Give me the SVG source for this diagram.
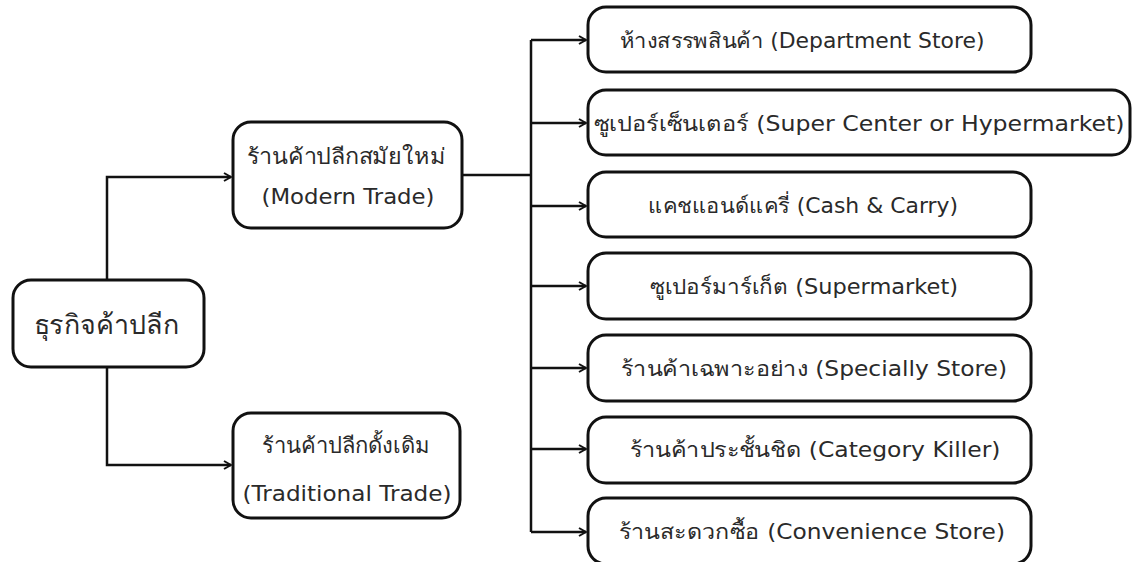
<svg xmlns="http://www.w3.org/2000/svg" width="1138" height="562" viewBox="0 0 1138 562">
<defs>
<marker id="arr" viewBox="0 0 10 10" refX="9" refY="5" markerWidth="10" markerHeight="10" markerUnits="userSpaceOnUse" orient="auto">
<path d="M2,1 L9,5 L2,9" fill="none" stroke="#111" stroke-width="2" stroke-linejoin="miter"/>
</marker>
</defs>
<style>
.box{fill:#fff;stroke:#111;stroke-width:3}
.ln{fill:none;stroke:#111;stroke-width:2.5}
.t{font-family:"DejaVu Sans","Noto Sans",sans-serif;fill:#2a2a2a;text-anchor:middle}
.r{font-size:21px}
.m{font-size:22px}
.big{font-size:27px}
</style>
<rect width="1138" height="562" fill="#fff"/>
<g id="connectors">
<path class="ln" d="M107,280 V177 H231" marker-end="url(#arr)"/>
<path class="ln" d="M107,367 V465 H231" marker-end="url(#arr)"/>
<path class="ln" d="M462,175 H531"/>
<path class="ln" d="M531,40 V532"/>
<path class="ln" d="M531,40 H586" marker-end="url(#arr)"/>
<path class="ln" d="M531,123 H586" marker-end="url(#arr)"/>
<path class="ln" d="M531,206 H586" marker-end="url(#arr)"/>
<path class="ln" d="M531,286 H586" marker-end="url(#arr)"/>
<path class="ln" d="M531,368 H586" marker-end="url(#arr)"/>
<path class="ln" d="M531,449 H586" marker-end="url(#arr)"/>
<path class="ln" d="M531,532 H586" marker-end="url(#arr)"/>
</g>
<g id="root">
<rect class="box" x="13" y="280" width="191" height="87" rx="18"/>
<text class="t big" x="106" y="334" textLength="145" lengthAdjust="spacingAndGlyphs">ธุรกิจค้าปลีก</text>
</g>
<g id="modern">
<rect class="box" x="233" y="122" width="229" height="106" rx="18"/>
<text class="t m" x="346" y="164" textLength="199" lengthAdjust="spacingAndGlyphs">ร้านค้าปลีกสมัยใหม่</text>
<text class="t m" x="348" y="204" textLength="173" lengthAdjust="spacingAndGlyphs">(Modern Trade)</text>
</g>
<g id="traditional">
<rect class="box" x="233" y="413" width="227" height="105" rx="18"/>
<text class="t m" x="346" y="453" textLength="168" lengthAdjust="spacingAndGlyphs">ร้านค้าปลีกดั้งเดิม</text>
<text class="t m" x="347" y="501" textLength="209" lengthAdjust="spacingAndGlyphs">(Traditional Trade)</text>
</g>
<g id="dept">
<rect class="box" x="588" y="7" width="443" height="65" rx="18"/>
<text class="t r" x="802" y="48" textLength="365" lengthAdjust="spacingAndGlyphs">ห้างสรรพสินค้า (Department Store)</text>
</g>
<g id="super-center">
<rect class="box" x="588" y="90" width="542" height="65" rx="18"/>
<text class="t r" x="859" y="131" textLength="531" lengthAdjust="spacingAndGlyphs">ซูเปอร์เซ็นเตอร์ (Super Center or Hypermarket)</text>
</g>
<g id="cash-carry">
<rect class="box" x="588" y="172" width="443" height="65" rx="18"/>
<text class="t r" x="803" y="213" textLength="310" lengthAdjust="spacingAndGlyphs">แคชแอนด์แครี่ (Cash &amp; Carry)</text>
</g>
<g id="supermarket">
<rect class="box" x="588" y="253" width="443" height="66" rx="18"/>
<text class="t r" x="804" y="294" textLength="308" lengthAdjust="spacingAndGlyphs">ซูเปอร์มาร์เก็ต (Supermarket)</text>
</g>
<g id="specialty">
<rect class="box" x="588" y="335" width="443" height="66" rx="18"/>
<text class="t r" x="814" y="376" textLength="386" lengthAdjust="spacingAndGlyphs">ร้านค้าเฉพาะอย่าง (Specially Store)</text>
</g>
<g id="category-killer">
<rect class="box" x="588" y="417" width="443" height="66" rx="18"/>
<text class="t r" x="815" y="457" textLength="371" lengthAdjust="spacingAndGlyphs">ร้านค้าประชั้นชิด (Category Killer)</text>
</g>
<g id="convenience">
<rect class="box" x="588" y="498" width="443" height="66" rx="18"/>
<text class="t r" x="812" y="539" textLength="386" lengthAdjust="spacingAndGlyphs">ร้านสะดวกซื้อ (Convenience Store)</text>
</g>
</svg>
